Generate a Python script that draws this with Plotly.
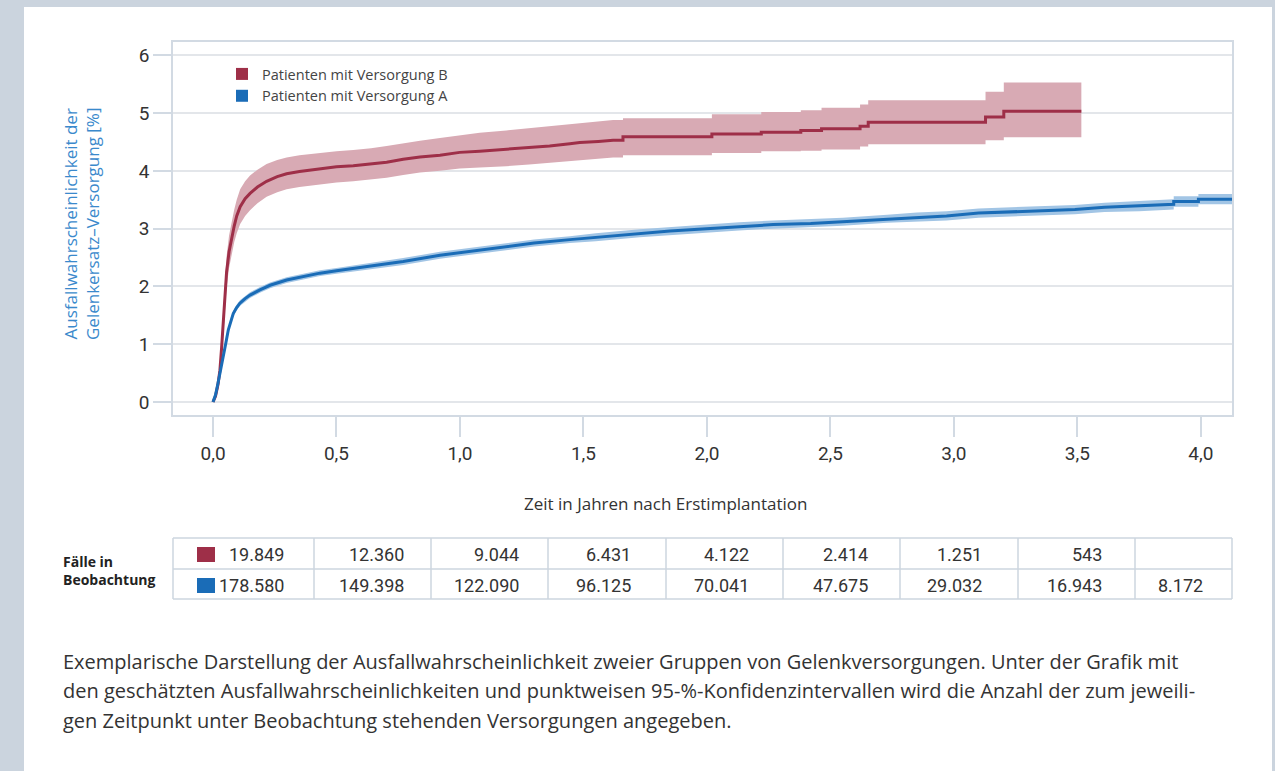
import plotly.graph_objects as go

W, H = 1275, 771

# ---------------- data ----------------
t_B = [0.000, 0.010, 0.020, 0.028, 0.035, 0.042, 0.050, 0.055, 0.065, 0.076, 0.086, 0.096,
       0.110, 0.130, 0.150, 0.180, 0.217, 0.260, 0.298, 0.350, 0.433, 0.500, 0.568, 0.640,
       0.703, 0.770, 0.838, 0.919, 0.999, 1.080, 1.188, 1.280, 1.363, 1.445, 1.485, 1.560,
       1.620, 1.660, 1.660, 2.020, 2.020, 2.220, 2.220, 2.380, 2.380, 2.464, 2.464,
       2.620, 2.620, 2.653, 2.653, 3.128, 3.128, 3.202, 3.202, 3.516]
y_B = [0.00, 0.10, 0.30, 0.55, 0.95, 1.45, 1.95, 2.25, 2.60, 2.85, 3.05, 3.22,
       3.38, 3.52, 3.61, 3.72, 3.82, 3.90, 3.95, 3.99, 4.04, 4.07, 4.09, 4.12,
       4.15, 4.20, 4.24, 4.27, 4.32, 4.34, 4.37, 4.40, 4.43, 4.47, 4.49, 4.51,
       4.53, 4.53, 4.59, 4.59, 4.64, 4.64, 4.67, 4.67, 4.70, 4.70, 4.73,
       4.73, 4.77, 4.77, 4.84, 4.84, 4.93, 4.93, 5.03, 5.03]
lo_B = [0.00, 0.05, 0.20, 0.40, 0.75, 1.20, 1.70, 1.98, 2.32, 2.57, 2.77, 2.92,
        3.08, 3.22, 3.32, 3.44, 3.55, 3.63, 3.68, 3.72, 3.77, 3.80, 3.82, 3.85,
        3.88, 3.93, 3.97, 4.00, 4.04, 4.06, 4.08, 4.11, 4.14, 4.16, 4.18, 4.21,
        4.23, 4.23, 4.27, 4.27, 4.31, 4.31, 4.34, 4.34, 4.35, 4.35, 4.37,
        4.37, 4.42, 4.42, 4.46, 4.46, 4.53, 4.53, 4.58, 4.58]
hi_B = [0.00, 0.15, 0.40, 0.70, 1.15, 1.70, 2.20, 2.52, 2.88, 3.13, 3.33, 3.50,
        3.68, 3.82, 3.92, 4.02, 4.12, 4.19, 4.23, 4.27, 4.31, 4.34, 4.36, 4.39,
        4.43, 4.48, 4.52, 4.57, 4.62, 4.66, 4.70, 4.74, 4.78, 4.81, 4.83, 4.86,
        4.88, 4.88, 4.91, 4.91, 4.98, 4.98, 5.02, 5.02, 5.05, 5.05, 5.09,
        5.09, 5.15, 5.15, 5.22, 5.22, 5.37, 5.37, 5.53, 5.53]

t_A = [0.000, 0.010, 0.020, 0.030, 0.042, 0.052, 0.062, 0.072, 0.082, 0.095, 0.109, 0.130,
       0.150, 0.190, 0.231, 0.298, 0.360, 0.433, 0.500, 0.568, 0.650, 0.770, 0.919, 0.973,
       1.080, 1.188, 1.300, 1.445, 1.550, 1.728, 1.850, 1.998, 2.130, 2.268, 2.420, 2.550,
       2.730, 2.850, 2.970, 3.100, 3.280, 3.490, 3.610, 3.750, 3.890, 3.890, 3.990, 3.990, 4.130]
y_A = [0.00, 0.12, 0.32, 0.52, 0.78, 1.02, 1.25, 1.41, 1.53, 1.63, 1.71, 1.79,
       1.85, 1.94, 2.02, 2.11, 2.17, 2.23, 2.27, 2.31, 2.36, 2.43, 2.54, 2.57,
       2.63, 2.69, 2.75, 2.81, 2.85, 2.92, 2.96, 3.00, 3.04, 3.07, 3.09, 3.12,
       3.17, 3.20, 3.22, 3.27, 3.30, 3.33, 3.37, 3.39, 3.42, 3.47, 3.47, 3.51, 3.51]
lo_A = [0.00, 0.09, 0.28, 0.47, 0.73, 0.97, 1.20, 1.36, 1.48, 1.58, 1.66, 1.74,
        1.80, 1.89, 1.97, 2.06, 2.12, 2.18, 2.22, 2.26, 2.31, 2.37, 2.48, 2.51,
        2.57, 2.63, 2.69, 2.75, 2.78, 2.85, 2.89, 2.93, 2.97, 3.00, 3.02, 3.05,
        3.10, 3.12, 3.14, 3.19, 3.22, 3.25, 3.29, 3.30, 3.33, 3.38, 3.38, 3.42, 3.42]
hi_A = [0.00, 0.15, 0.36, 0.57, 0.83, 1.07, 1.30, 1.46, 1.58, 1.68, 1.76, 1.84,
        1.90, 1.99, 2.07, 2.16, 2.22, 2.28, 2.32, 2.36, 2.41, 2.49, 2.60, 2.63,
        2.69, 2.75, 2.81, 2.87, 2.92, 2.99, 3.03, 3.07, 3.11, 3.14, 3.16, 3.19,
        3.24, 3.28, 3.30, 3.35, 3.38, 3.41, 3.45, 3.48, 3.51, 3.56, 3.56, 3.60, 3.60]

series_names = ["Patienten mit Versorgung B", "Patienten mit Versorgung A"]
counts_B = ["19.849", "12.360", "9.044", "6.431", "4.122", "2.414", "1.251", "543", ""]
counts_A = ["178.580", "149.398", "122.090", "96.125", "70.041", "47.675", "29.032", "16.943", "8.172"]

x_tick_vals = [0.0, 0.5, 1.0, 1.5, 2.0, 2.5, 3.0, 3.5, 4.0]
y_tick_vals = [0, 1, 2, 3, 4, 5, 6]

x_title = "Zeit in Jahren nach Erstimplantation"
y_title = "Ausfallwahrscheinlichkeit der<br>Gelenkersatz–Versorgung [%]"
table_label = ["Fälle in", "Beobachtung"]
caption_lines = [
    "Exemplarische Darstellung der Ausfallwahrscheinlichkeit zweier Gruppen von Gelenkversorgungen. Unter der Grafik mit",
    "den geschätzten Ausfallwahrscheinlichkeiten und punktweisen 95-%-Konfidenzintervallen wird die Anzahl der zum jeweili-",
    "gen Zeitpunkt unter Beobachtung stehenden Versorgungen angegeben.",
]

# ---------------- style ----------------
RED = "#9e2f48"
RED_BAND = "#d8aab4"
BLUE = "#1a6cb7"
BLUE_BAND = "#a2c5e5"
GREY_BG = "#cbd4de"
GRID = "#e3e6ea"
FRAME = "#d2dae3"
TXT = "#333333"
NUMFONT = "Roboto, 'DejaVu Sans', sans-serif"
TEXTFONT = "'Open Sans', Roboto, sans-serif"


def px(x):
    return x / W


def py(y):
    return 1 - y / H


fig = go.Figure()

# red band + line
fig.add_trace(go.Scatter(x=t_B, y=lo_B, mode="lines", line=dict(width=0),
                         showlegend=False, hoverinfo="skip"))
fig.add_trace(go.Scatter(x=t_B, y=hi_B, mode="lines", line=dict(width=0),
                         fill="tonexty", fillcolor=RED_BAND, showlegend=False, hoverinfo="skip"))
fig.add_trace(go.Scatter(x=t_B, y=y_B, mode="lines", line=dict(color=RED, width=3),
                         showlegend=False))
# blue band + line
fig.add_trace(go.Scatter(x=t_A, y=lo_A, mode="lines", line=dict(width=0),
                         showlegend=False, hoverinfo="skip"))
fig.add_trace(go.Scatter(x=t_A, y=hi_A, mode="lines", line=dict(width=0),
                         fill="tonexty", fillcolor=BLUE_BAND, showlegend=False, hoverinfo="skip"))
fig.add_trace(go.Scatter(x=t_A, y=y_A, mode="lines", line=dict(color=BLUE, width=3),
                         showlegend=False))

# legend entries
for name, col in zip(series_names, [RED, BLUE]):
    fig.add_trace(go.Scatter(x=[None], y=[None], mode="markers", name=name,
                             marker=dict(symbol="square", size=12, color=col)))

shapes = []
# white panel
shapes.append(dict(type="rect", xref="paper", yref="paper", x0=px(24), x1=px(1272),
                   y0=0, y1=py(7), fillcolor="white", line=dict(width=0), layer="below"))

# table
tx = [173, 314, 431, 548, 666, 783, 900, 1018, 1135, 1232]
ty = [538, 569, 599]
for x in tx:
    shapes.append(dict(type="line", xref="paper", yref="paper", x0=px(x), x1=px(x),
                       y0=py(ty[0]), y1=py(ty[-1]), line=dict(color="#cdd6df", width=1.5)))
for y in ty:
    shapes.append(dict(type="line", xref="paper", yref="paper", x0=px(tx[0]), x1=px(tx[-1]),
                       y0=py(y), y1=py(y), line=dict(color="#cdd6df", width=1.5)))
# colour keys in table
for col, (y0, y1) in zip([RED, BLUE], [(547, 562), (578, 593)]):
    shapes.append(dict(type="rect", xref="paper", yref="paper", x0=px(197), x1=px(215),
                       y0=py(y1), y1=py(y0), fillcolor=col, line=dict(width=0)))

annotations = []
right_edges = [286, 406, 521, 633, 751, 870, 984, 1104, 1205]
for vals, yc in [(counts_B, 554), (counts_A, 585)]:
    for v, xr in zip(vals, right_edges):
        if v:
            annotations.append(dict(x=px(xr), y=py(yc), xref="paper", yref="paper",
                                    text=v, showarrow=False, xanchor="right", yanchor="middle",
                                    font=dict(family=NUMFONT, size=18, color=TXT)))
annotations.append(dict(x=px(61), y=py(570), xref="paper", yref="paper",
                        text="<br>".join("<b>%s</b>" % s for s in table_label),
                        showarrow=False, xanchor="left", yanchor="middle", align="left",
                        font=dict(family=TEXTFONT, size=14, color="#222")))

# axis titles
annotations.append(dict(x=px(665), y=py(503), xref="paper", yref="paper", text=x_title,
                        showarrow=False, xanchor="center", yanchor="middle",
                        font=dict(family=TEXTFONT, size=17, color=TXT)))
annotations.append(dict(x=px(81), y=py(224), xref="paper", yref="paper", text=y_title,
                        showarrow=False, xanchor="center", yanchor="middle", textangle=-90,
                        font=dict(family=TEXTFONT, size=17, color="#3a89cc")))

# caption
for i, line in enumerate(caption_lines):
    annotations.append(dict(x=px(61), y=py(661 + 29.5 * i), xref="paper", yref="paper", text=line,
                            showarrow=False, xanchor="left", yanchor="middle",
                            font=dict(family=TEXTFONT, size=20, color=TXT)))

fig.update_layout(
    width=W, height=H,
    margin=dict(l=0, r=0, t=0, b=0),
    paper_bgcolor=GREY_BG,
    plot_bgcolor="white",
    separators=",.",
    font=dict(family=NUMFONT, color=TXT),
    shapes=shapes,
    annotations=annotations,
    legend=dict(x=px(222), y=py(58), xanchor="left", yanchor="top", traceorder="normal",
                bgcolor="rgba(0,0,0,0)", font=dict(family=TEXTFONT, size=14.5, color="#444"),
                tracegroupgap=0, itemwidth=30),
    xaxis=dict(domain=[px(173), px(1232)], range=[-0.162, 4.126],
               tickvals=x_tick_vals, tickformat=".1f",
               showgrid=False, zeroline=False,
               showline=True, mirror=True, linecolor=FRAME, linewidth=1.5,
               ticks="outside", ticklen=20, tickwidth=1.5, tickcolor=FRAME,
               tickfont=dict(family=NUMFONT, size=19, color=TXT)),
    yaxis=dict(domain=[py(415), py(42)], range=[-0.225, 6.23],
               tickvals=y_tick_vals,
               showgrid=True, gridcolor=GRID, gridwidth=1.5, zeroline=False,
               showline=True, mirror=True, linecolor=FRAME, linewidth=1.5,
               ticks="outside", ticklen=18, tickwidth=1.5, tickcolor=FRAME,
               tickfont=dict(family=NUMFONT, size=19, color=TXT)),
)

fig.write_html("out.html", config={"displayModeBar": False},
               post_script="document.body.style.margin='0px';")
